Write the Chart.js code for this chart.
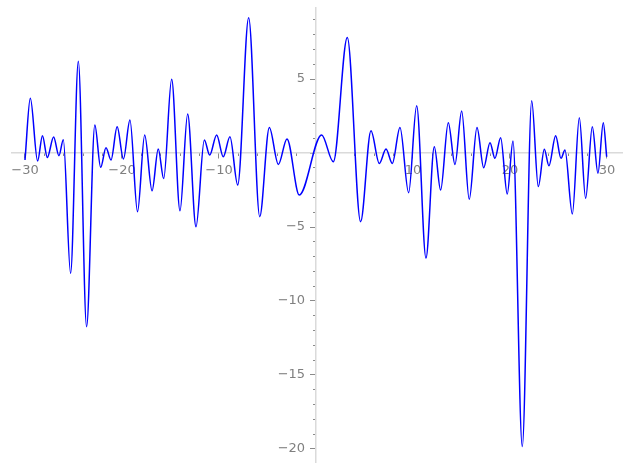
<!DOCTYPE html>
<html>
<head>
<meta charset="utf-8">
<title>Plot</title>
<script src="https://cdn.jsdelivr.net/npm/chart.js@4"></script>
<style>
  html, body { margin: 0; padding: 0; background: #fff; }
  #plot { display: block; }
</style>
</head>
<body>
<canvas id="plot" width="627" height="468"></canvas>
<script>
// curve points (mostly the turning points)
const xValues = [
    -30.0, -29.45, -28.7, -28.2, -27.7, -27.05, -26.5, -26.05, -25.3, -24.5,
    -23.65, -22.8, -22.2, -21.65, -21.13, -20.5, -19.85, -19.18, -18.4, -17.66,
    -16.9, -16.26, -15.7, -14.88, -14.02, -13.23, -12.37, -11.51, -10.96, -10.24,
    -9.56, -8.87, -8.07, -6.94, -5.8, -4.81, -3.88, -2.99, -1.72, 0.58,
    1.79, 3.23, 4.6, 5.67, 6.53, 7.22, 7.87, 8.66, 9.55, 10.38,
    11.34, 12.2, 12.85, 13.64, 14.33, 15.02, 15.8, 16.6, 17.29, 17.94,
    18.45, 19.04, 19.72, 20.31, 21.27, 22.24, 22.92, 23.54, 24.02, 24.71,
    25.26, 25.67, 26.43, 27.15, 27.8, 28.49, 29.07, 29.62, 29.97
];
const yValues = [
    -0.47, 3.7, -0.54, 1.17, -0.3, 1.08, -0.18, 0.9, -8.13, 6.2,
    -11.74, 1.9, -0.97, 0.36, -0.47, 1.78, -0.4, 2.23, -3.97, 1.22,
    -2.55, 0.27, -1.73, 4.98, -3.9, 2.64, -4.98, 0.88, -0.14, 1.22,
    -0.25, 1.1, -2.16, 9.14, -4.3, 1.73, -0.77, 0.95, -2.84, 1.22,
    -0.59, 7.81, -4.64, 1.51, -0.7, 0.27, -0.7, 1.73, -2.68, 3.2,
    -7.1, 0.43, -2.5, 2.05, -0.77, 2.84, -3.13, 1.73, -0.99, 0.7,
    -0.36, 1.04, -2.77, 0.81, -19.84, 3.54, -2.27, 0.25, -0.86, 1.17,
    -0.36, 0.2, -4.12, 2.39, -3.06, 1.78, -1.37, 2.05, -0.25
];

// axis ranges and tick steps
const xRange = [-31.34, 31.55];
const yRange = [-20.88, 9.8];
const xMajorStep = 10, xMinorStep = 2;
const yMajorStep = 5, yMinorStep = 1;

const points = xValues.map((x, i) => ({ x: x, y: yValues[i] }));

const axisColor = '#dadada';
const tickColor = '#8a8a8a';
const labelColor = '#808080';
const labelFont = { family: 'DejaVu Sans', size: 13 };

function fmt(v) {
    if (v === 0) return '';
    return String(v).replace('-', '\u2212');
}
// chart.js puts centred y labels right on the axis line, so pad them with a gap
function fmtY(v) {
    const s = fmt(v);
    return s ? s + '\u2007\u2009' : '';
}

// scales sit on the other axis, so they should take no layout room
function fitY(scale) {
    scale.width = 0;
    scale.paddingTop = 0;
    scale.paddingBottom = 0;
}
function fitX(scale) {
    scale.height = 0;
    scale.paddingLeft = 0;
    scale.paddingRight = 0;
}

new Chart(document.getElementById('plot'), {
    type: 'line',
    data: {
        datasets: [{
            data: points,
            borderColor: '#0000ff',
            borderWidth: 1.5,
            pointRadius: 0,
            fill: false,
            cubicInterpolationMode: 'monotone'
        }]
    },
    options: {
        responsive: false,
        animation: false,
        layout: { padding: { left: 12, right: 5, top: 8, bottom: 6 } },
        plugins: { legend: { display: false }, tooltip: { enabled: false } },
        scales: {
            x: {
                type: 'linear',
                min: xRange[0], max: xRange[1],
                position: { y: 0 },
                afterFit: fitX,
                border: { color: axisColor, width: 1.5 },
                grid: { drawOnChartArea: false, tickLength: 5, tickColor: tickColor, tickWidth: 1 },
                ticks: {
                    stepSize: xMajorStep, includeBounds: false, autoSkip: false, maxRotation: 0,
                    padding: 5, color: labelColor, font: labelFont, callback: fmt
                }
            },
            xMinor: {
                type: 'linear', axis: 'x',
                min: xRange[0], max: xRange[1],
                position: { y: 0 },
                afterFit: fitX,
                border: { display: false },
                grid: { drawOnChartArea: false, tickLength: 3, tickColor: tickColor, tickWidth: 1 },
                ticks: { stepSize: xMinorStep, includeBounds: false, autoSkip: false, maxRotation: 0, callback: () => '' }
            },
            y: {
                type: 'linear',
                min: yRange[0], max: yRange[1],
                position: { x: 0 },
                afterFit: fitY,
                border: { color: axisColor, width: 1.5 },
                grid: { drawOnChartArea: false, tickLength: 5, tickColor: tickColor, tickWidth: 1 },
                ticks: {
                    stepSize: yMajorStep, includeBounds: false, autoSkip: false,
                    padding: 5, color: labelColor, font: labelFont, callback: fmtY
                }
            },
            yMinor: {
                type: 'linear', axis: 'y',
                min: yRange[0], max: yRange[1],
                position: { x: 0 },
                afterFit: fitY,
                border: { display: false },
                grid: { drawOnChartArea: false, tickLength: 3, tickColor: tickColor, tickWidth: 1 },
                ticks: { stepSize: yMinorStep, includeBounds: false, autoSkip: false, callback: () => '' }
            }
        }
    }
});
</script>
</body>
</html>
